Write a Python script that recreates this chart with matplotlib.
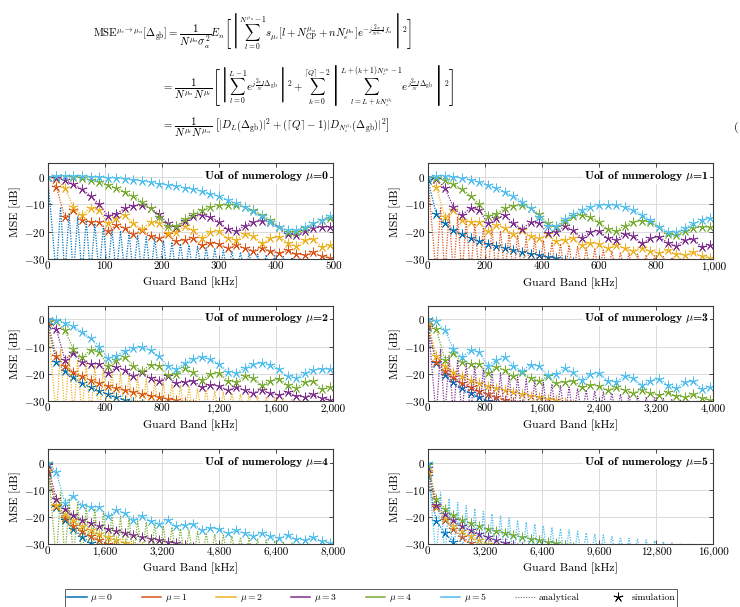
import matplotlib.pyplot as plt
import matplotlib.ticker as ticker
from matplotlib.lines import Line2D
import numpy as np

plt.rcParams['font.family'] = 'cmr10'
plt.rcParams['mathtext.fontset'] = 'cm'
plt.rcParams['axes.formatter.use_mathtext'] = True

# subcarrier spacing of each numerology [kHz] = spacing of the simulated points
scs_khz = [15, 30, 60, 120, 240, 480]
x_max = [500, 1000, 2000, 4000, 8000, 16000]
x_tick_step = [100, 200, 400, 800, 1600, 3200]
numerologies = [0, 1, 2, 3, 4, 5]
colors = ['#0072BD', '#D95319', '#EDB120', '#7E2F8E', '#77AC30', '#4DBEEE']

# MSE [dB] at guard band k * scs(UoI), k = 0, 1, 2, ...
# grouped by offset = mu_interferer - mu_UoI (same shape in every panel)
mse_off_p5 = [0.0, 0.2, 0.3, 0.3, 0.2, 0.1, 0.0, -0.2, -0.4, -0.7, -1.0, -1.4,
              -1.9, -2.4, -2.9, -3.4, -3.9, -4.5, -5.2, -6.1, -7.1, -8.3, -9.6,
              -11.0, -12.6, -14.4, -16.3, -18.2, -19.5, -19.4, -18.3, -17.0,
              -15.6, -14.4]
mse_off_p4 = [0.0, 0.2, 0.2, 0.0, -0.4, -1.0, -1.8, -2.8, -4.0, -5.4, -7.0, -9.0,
              -11.5, -14.5, -17.8, -18.0, -15.5, -13.5, -12.0, -11.0, -10.4,
              -10.2, -10.4, -11.0, -12.2, -13.8, -15.8, -18.2, -20.0, -20.2,
              -18.6, -17.0, -15.8, -14.9]
mse_off_p3 = [0.0, -0.3, -1.2, -2.6, -4.5, -6.8, -10.0, -14.2, -13.4, -11.5,
              -10.5, -10.3, -11.4, -13.6, -17.0, -18.3, -16.0, -14.4, -14.0,
              -14.6, -16.4, -19.2, -19.8, -17.8, -16.4, -16.0, -16.6, -18.4,
              -21.0, -21.4, -19.8, -18.6, -18.2, -18.4]
mse_off_p2 = [0.0, -0.8, -4.0, -11.0, -14.0, -11.2, -12.0, -17.0, -15.0, -14.0,
              -17.0, -19.0, -16.6, -17.0, -20.5, -20.0, -18.0, -19.5, -22.3,
              -20.0, -19.6, -22.5, -23.0, -20.8, -21.5, -24.3, -22.5, -21.8,
              -24.0, -25.2, -23.0, -22.8, -25.5, -25.0]
mse_off_p1 = [0.0, -3.5, -14.8, -12.2, -15.6, -16.4, -16.4, -19.8, -17.6, -18.5,
              -21.0, -19.5, -21.5, -22.5, -21.0, -23.5, -23.0, -22.5, -25.0,
              -24.0, -24.5, -26.0, -25.0, -26.0, -27.0, -25.8, -27.2, -27.8,
              -26.8, -28.2, -28.5, -27.5, -29.0, -29.5]
mse_off_m1 = [-1.0, -13.5, -17.0, -19.3, -21.0, -22.3, -23.4, -24.4, -25.3,
              -26.1, -26.8, -27.4, -28.0, -28.6, -29.2, -29.8, -30.4, -31.0]
mse_off_m2 = [-2.0, -15.5, -19.0, -21.3, -23.3, -24.9, -26.2, -27.5, -28.6,
              -29.5, -30.3, -31.0]
mse_off_m3 = [-3.0, -16.0, -20.3, -23.2, -25.3, -27.0, -28.5, -30.0, -31.2]
mse_off_m4 = [-4.0, -16.5, -21.0, -24.5, -27.3, -29.6, -31.5]
mse_off_m5 = [-5.0, -21.5, -26.0, -29.2, -31.5]

# interference of a numerology on itself: side-lobe peaks at (k+0.5)*scs,
# nulls (below the axis) at k*scs
self_lobe_peaks = [-11.0, -13.3, -14.7, -15.9, -17.0, -18.0, -18.9, -19.7, -20.5,
                   -21.2, -21.9, -22.6, -23.2, -23.8, -24.4, -24.9, -25.4, -25.9,
                   -26.3, -26.7, -27.1, -27.5, -27.9, -28.2, -28.5, -28.8, -29.1,
                   -29.4, -29.7, -29.9, -30.1, -30.3, -30.5]
null_db = -36.0

mse_by_offset = {5: mse_off_p5, 4: mse_off_p4, 3: mse_off_p3, 2: mse_off_p2,
                 1: mse_off_p1, -1: mse_off_m1, -2: mse_off_m2, -3: mse_off_m3,
                 -4: mse_off_m4, -5: mse_off_m5}

W, H = 740, 607
fig = plt.figure(figsize=(W / 100, H / 100), dpi=100)


def px_rect(left, top, right, bottom):
    return [left / W, 1 - bottom / H, (right - left) / W, (bottom - top) / H]


cols = [(47.7, 333.3), (427.7, 713.3)]
rows = [(163.3, 259.0), (305.7, 401.0), (449.0, 544.0)]

star = (5, 2, 0)
dots = (0, (1, 1.1))
ms, mew = 7, 0.6

for u in numerologies:
    l, r = cols[u % 2]
    t, b = rows[u // 2]
    ax = fig.add_axes(px_rect(l, t, r, b))
    step = scs_khz[u]
    for i in numerologies:
        d = i - u
        c = colors[i]
        if d == 0:
            xs, ys = [0.0], [0.0]
            for k, p in enumerate(self_lobe_peaks, start=1):
                xs += [k * step, (k + 0.5) * step]
                ys += [null_db, p]
            ax.plot(xs, ys, ls=dots, color=c, lw=0.9)
            ax.plot([0], [0], ls='none', marker=star, ms=ms, mew=mew, color=c)
        else:
            vals = np.array(mse_by_offset[d])
            xs = np.arange(len(vals)) * step
            ax.plot(xs, vals, ls=dots, color=c, lw=0.9, marker=star, ms=ms, mew=mew)

    ax.set_xlim(0, x_max[u])
    ax.set_ylim(-30, 5)
    ax.set_xticks(np.arange(0, x_max[u] + 1, x_tick_step[u]))
    ax.set_yticks([-30, -20, -10, 0])
    ax.xaxis.set_major_formatter(ticker.FuncFormatter(lambda v, p: f"{v:,.0f}"))
    ax.yaxis.set_major_formatter(ticker.FuncFormatter(lambda v, p: f"${v:.0f}$"))
    ax.tick_params(direction='in', length=3, width=0.6, labelsize=8, pad=2,
                   top=True, right=True, colors='#333333', labelcolor='black')
    ax.grid(True, color='#dadada', lw=0.7)
    ax.set_axisbelow(True)
    for s in ax.spines.values():
        s.set_color('#3a3a3a')
        s.set_linewidth(0.8)
    ax.set_xlabel('Guard Band [kHz]', fontsize=8.5, labelpad=4)
    ax.set_ylabel('MSE [dB]', fontsize=8.5, labelpad=2)
    ax.text(0.985, 0.94, f'UoI of numerology $\\mu$={u}', transform=ax.transAxes,
            ha='right', va='top', fontfamily='cmb10', fontsize=8.5,
            bbox=dict(facecolor='white', edgecolor='none', pad=0.5))

eq1 = (r'$\mathrm{MSE}^{\mu_i \rightarrow \mu_u}[\Delta_{\mathrm{gb}}] = '
       r'\dfrac{1}{N^{\mu_u}\sigma_a^2} E_n \left[ \left| \sum_{l=0}^{N^{\mu_u}-1} '
       r's_{\mu_i}[l + N_{\mathrm{CP}}^{\mu_u} + nN_e^{\mu_u}] '
       r'e^{-j\frac{2\pi}{N^{\mu_u}} l f_u} \right|^2 \right]$')
eq2 = (r'$= \dfrac{1}{N^{\mu_u}N^{\mu_i}} \left[ \left| \sum_{l=0}^{L-1} '
       r'e^{j\frac{2\pi}{N} l\Delta_{\mathrm{gb}}} \right|^2 + '
       r'\sum_{k=0}^{\lceil Q \rceil - 2} \left| '
       r'\sum_{l=L+kN_e^{\mu_i}}^{L+(k+1)N_e^{\mu_i}-1} '
       r'e^{j\frac{2\pi}{N} l\Delta_{\mathrm{gb}}} \right|^2 \right]$')
eq3 = (r'$= \dfrac{1}{N^{\mu_i}N^{\mu_u}}\ \left[ |D_L\left(\Delta_{\mathrm{gb}}\right)|^2 '
       r'+ (\lceil Q \rceil - 1)|D_{N_e^{\mu_i}}\left(\Delta_{\mathrm{gb}}\right)|^2 \right]$')

fig.text(93 / W, 1 - 31 / H, eq1, ha='left', va='center', fontsize=7.8)
fig.text(162 / W, 1 - 86 / H, eq2, ha='left', va='center', fontsize=7.8)
fig.text(162 / W, 1 - 127 / H, eq3, ha='left', va='center', fontsize=7.8)
fig.text(734 / W, 1 - 127 / H, '(', ha='left', va='center', fontsize=8)

handles = [Line2D([], [], color=c, lw=1.1) for c in colors]
labels = [f'$\\mu = {m}$' for m in numerologies]
handles.append(Line2D([], [], color='#888888', lw=0.9, ls=dots))
labels.append('analytical')
handles.append(Line2D([], [], color='black', ls='none', marker=star, ms=ms, mew=mew))
labels.append('simulation')
leg = fig.legend(handles, labels, loc='center', bbox_to_anchor=(371 / W, 1 - 598 / H),
                 ncol=8, fontsize=7, frameon=True, fancybox=False, borderpad=0.25,
                 handlelength=2.0, handletextpad=0.4, columnspacing=2.9)
leg.get_frame().set_edgecolor('#333333')
leg.get_frame().set_linewidth(0.7)

fig.savefig('out.png', dpi=100)
